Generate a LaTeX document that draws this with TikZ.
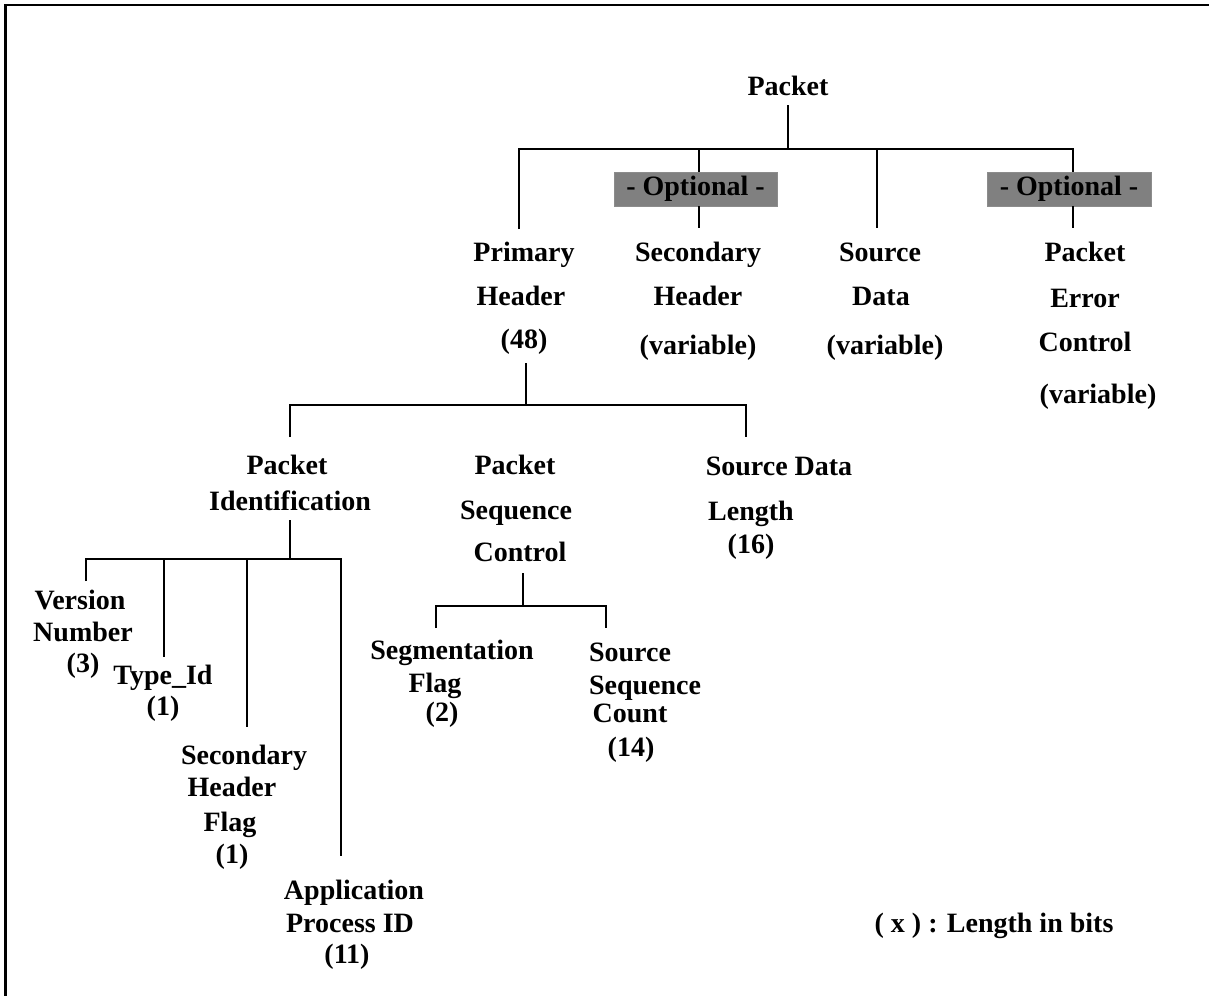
\documentclass[tikz,border=0pt]{standalone}
\usepackage{fontspec}
\setmainfont{Liberation Serif}
\begin{document}
\begin{tikzpicture}[x=1pt,y=-1pt,
  t/.style={font=\fontsize{28}{30}\selectfont\bfseries, inner sep=0pt, anchor=base},
  ln/.style={line width=2.6pt},
  optbox/.style={fill=black!50, draw=black!45, line width=0.5pt, minimum height=34pt, inner sep=0pt,
                 font=\fontsize{28}{30}\selectfont\bfseries}]
\useasboundingbox (0,0) rectangle (1209,996);
% frame
\draw[line width=1.8pt] (1212,5) -- (5,5);
\draw[line width=3pt] (5,4) -- (5,996);

% level 0
\node[t] (pkt) at (788,95) {Packet};
% level 1
\node[t] (ph1) at (524,261) {Primary};
\node[t] (ph2) at (521,305) {Header};
\node[t] (ph3) at (524,348) {(48)};
\node[t] (sh1) at (698,261) {Secondary};
\node[t] (sh2) at (698,305) {Header};
\node[t] (sh3) at (698,354) {(variable)};
\node[t] (sd1) at (880,261) {Source};
\node[t] (sd2) at (881,305) {Data};
\node[t] (sd3) at (885,354) {(variable)};
\node[t] (pe1) at (1085,261) {Packet};
\node[t] (pe2) at (1085,307) {Error};
\node[t] (pe3) at (1085,351) {Control};
\node[t] (pe4) at (1098,403) {(variable)};
\node[optbox, minimum width=163pt] (opt1) at (695.5,189) {\raisebox{-2pt}{- Optional -}};
\node[optbox, minimum width=164pt] (opt2) at (1069,189) {\raisebox{-2pt}{- Optional -}};
% level 2
\node[t] (pi1) at (287,474) {Packet};
\node[t] (pi2) at (290,510) {Identification};
\node[t] (psc1) at (515,474) {Packet};
\node[t] (psc2) at (516,519) {Sequence};
\node[t] (psc3) at (520,561) {Control};
\node[t] (sdl1) at (779,475) {Source Data};
\node[t] (sdl2) at (751,520) {Length};
\node[t] (sdl3) at (751,553) {(16)};
% level 3
\node[t] (vn1) at (80,609) {Version};
\node[t] (vn2) at (83,641) {Number};
\node[t] (vn3) at (83,672) {(3)};
\node[t] (ti1) at (163,684) {Type\_Id};
\node[t] (ti2) at (163,715) {(1)};
\node[t] (shf1) at (244,764) {Secondary};
\node[t] (shf2) at (232,796) {Header};
\node[t] (shf3) at (230,831) {Flag};
\node[t] (shf4) at (232,863) {(1)};
\node[t] (ap1) at (354,899) {Application};
\node[t] (ap2) at (350,932) {Process ID};
\node[t] (ap3) at (347,963) {(11)};
\node[t] (sf1) at (452,659) {Segmentation};
\node[t] (sf2) at (435,692) {Flag};
\node[t] (sf3) at (442,721) {(2)};
\node[t] (ssc1) at (630,661) {Source};
\node[t] (ssc2) at (645,694) {Sequence};
\node[t] (ssc3) at (630,722) {Count};
\node[t] (ssc4) at (631,756) {(14)};
\node[t] (leg) at (994,932) {( x ) : Length in bits};

% junction coordinates
\coordinate (pktTop) at (788,105);
\coordinate (pktBar) at (788,149);
\coordinate (barL) at (519,149);
\coordinate (barR) at (1073,149);
\coordinate (phEnd) at (519,229);
\coordinate (shBar) at (699,149);
\coordinate (shEnd) at (699,228);
\coordinate (sdBar) at (877,149);
\coordinate (sdEnd) at (877,228);
\coordinate (peEnd) at (1073,228);

\coordinate (phTop) at (526,363);
\coordinate (phBar) at (526,405);
\coordinate (b2L) at (290,405);
\coordinate (b2R) at (746,405);
\coordinate (piEnd) at (290,437);
\coordinate (sdlEnd) at (746,437);

\coordinate (piTop) at (290,520);
\coordinate (piBar) at (290,559);
\coordinate (b3L) at (86,559);
\coordinate (b3R) at (341,559);
\coordinate (vnEnd) at (86,581);
\coordinate (tiBar) at (164,559);
\coordinate (tiEnd) at (164,657);
\coordinate (shfBar) at (247,559);
\coordinate (shfEnd) at (247,727);
\coordinate (apEnd) at (341,856);

\coordinate (pscTop) at (523,573);
\coordinate (pscBar) at (523,606);
\coordinate (b4L) at (436,606);
\coordinate (b4R) at (606,606);
\coordinate (sfEnd) at (436,628);
\coordinate (sscEnd) at (606,628);

% connectors
\draw[ln] (pktTop) -- (pktBar);
\draw[ln] (phEnd) -- (barL) -- (barR) -- (opt2.north -| barR);
\draw[ln] (shBar) -- (shBar |- opt1.north);
\draw[ln] (shEnd |- opt1.south) -- (shEnd);
\draw[ln] (sdBar) -- (sdEnd);
\draw[ln] (peEnd |- opt2.south) -- (peEnd);

\draw[ln] (phTop) -- (phBar);
\draw[ln] (piEnd) -- (b2L) -- (b2R) -- (sdlEnd);

\draw[ln] (piTop) -- (piBar);
\draw[ln] (vnEnd) -- (b3L) -- (b3R) -- (apEnd);
\draw[ln] (tiBar) -- (tiEnd);
\draw[ln] (shfBar) -- (shfEnd);

\draw[ln] (pscTop) -- (pscBar);
\draw[ln] (sfEnd) -- (b4L) -- (b4R) -- (sscEnd);
\end{tikzpicture}
\end{document}
